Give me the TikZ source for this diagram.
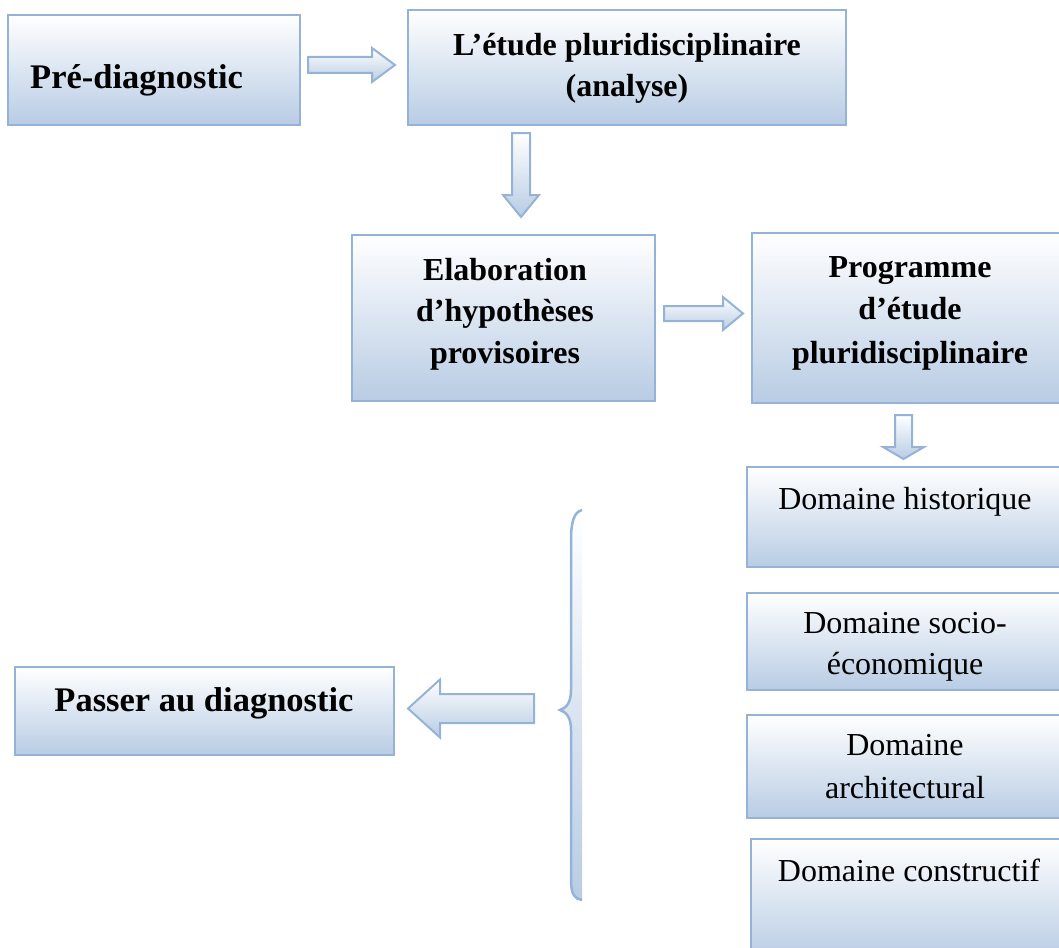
\documentclass[tikz,border=0pt]{standalone}
\usepackage{fontspec}
\setmainfont{Liberation Serif}
\usetikzlibrary{calc}
\definecolor{bdr}{RGB}{149,179,215}
\definecolor{fillb}{RGB}{184,204,228}
\pgfdeclareverticalshading{boxgrad}{100bp}{color(0bp)=(fillb); color(25bp)=(fillb); color(75bp)=(white); color(100bp)=(white)}
\pgfdeclareverticalshading{bracegrad}{100bp}{color(0bp)=(fillb); color(25bp)=(fillb); color(75bp)=(white); color(100bp)=(white)}
% name, tail, tip, shaft half width, head half width, head length
\newcommand\blockarrow[6]{%
  \coordinate (#1-h) at ($(#3)!#6!(#2)$);
  \draw[arrowshape] ($(#2)!#4!90:(#3)$) -- ($(#1-h)!#4!90:(#3)$) -- ($(#1-h)!#5!90:(#3)$)
    -- (#3) -- ($(#1-h)!#5!-90:(#3)$) -- ($(#1-h)!#4!-90:(#3)$) -- ($(#2)!#4!-90:(#3)$) -- cycle;
}
\begin{document}
\begin{tikzpicture}[x=1pt,y=-1pt,
  box/.style={draw=bdr, line width=2.5pt, shade, shading=boxgrad, rectangle, inner sep=0pt, outer sep=0pt},
  arrowshape/.style={draw=bdr, line width=2pt, shade, shading=boxgrad, line join=miter},
  tbig/.style={font=\fontsize{34.5}{40}\selectfont\bfseries, inner sep=0pt, anchor=base},
  tbold/.style={font=\fontsize{32}{38}\selectfont\bfseries, inner sep=0pt, anchor=base},
  treg/.style={font=\fontsize{32}{38}\selectfont, inner sep=0pt, anchor=base}]
\useasboundingbox (0,0) rectangle (1059,947);
\clip (0,0) rectangle (1059,947);

% boxes
\node[box, minimum width=292pt, minimum height=110pt] (b1) at (154,70) {};
\node[box, minimum width=438pt, minimum height=115pt] (b2) at (627,67.5) {};
\node[box, minimum width=303pt, minimum height=166pt] (b3) at (503.5,318) {};
\node[box, minimum width=328pt, minimum height=170pt] (b4) at (916,318) {};
\node[box, minimum width=333pt, minimum height=100pt] (d1) at (913.5,517) {};
\node[box, minimum width=333pt, minimum height=97pt] (d2) at (913.5,641.5) {};
\node[box, minimum width=333pt, minimum height=103pt] (d3) at (913.5,766.5) {};
\node[box, minimum width=329pt, minimum height=121pt] (d4) at (915.5,899.5) {};
\node[box, minimum width=379pt, minimum height=88pt] (p) at (204.5,711) {};

% texts
\node[tbig, anchor=base west] (t1) at (30,89) {Pré-diagnostic};
\node[tbold] (t2a) at (627,56) {L’étude pluridisciplinaire};
\node[tbold] (t2b) at (627,97) {(analyse)};
\node[tbold] (t3a) at (505,280) {Elaboration};
\node[tbold] (t3b) at (505,321) {d’hypothèses};
\node[tbold] (t3c) at (505,363) {provisoires};
\node[tbold] (t4a) at (910,277) {Programme};
\node[tbold] (t4b) at (910,319) {d’étude};
\node[tbold] (t4c) at (910,363) {pluridisciplinaire};
\node[treg] (td1) at (905,509) {Domaine historique};
\node[treg] (td2a) at (905,633) {Domaine socio-};
\node[treg] (td2b) at (905,674) {économique};
\node[treg] (td3a) at (905,755) {Domaine};
\node[treg] (td3b) at (905,798) {architectural};
\node[treg] (td4) at (909,881) {Domaine constructif};
\node[tbig] (tp) at (204,711) {Passer au diagnostic};

% arrows
\coordinate (a1s) at (308,65);   \coordinate (a1e) at (395,65);
\coordinate (a2s) at (521,133);  \coordinate (a2e) at (521,217);
\coordinate (a3s) at (664,313.5);\coordinate (a3e) at (743,313.5);
\coordinate (a4s) at (903.5,415);\coordinate (a4e) at (903.5,459);
\coordinate (a5s) at (534,708.5);\coordinate (a5e) at (408,708.5);
\blockarrow{a1}{a1s}{a1e}{8pt}{17pt}{23pt}
\blockarrow{a2}{a2s}{a2e}{9pt}{18pt}{22pt}
\blockarrow{a3}{a3s}{a3e}{7.5pt}{16.5pt}{20pt}
\blockarrow{a4}{a4s}{a4e}{8.5pt}{20.5pt}{12pt}
\blockarrow{a5}{a5s}{a5e}{14.5pt}{29pt}{32pt}

% brace
\path[shade, shading=bracegrad] (582,510) .. controls (574,512) and (571,522) .. (571,540) -- (571,690)
  .. controls (571,703) and (566,708) .. (560,710) .. controls (566,712) and (571,717) .. (571,730)
  -- (571,880) .. controls (571,895) and (575,899) .. (582,900) -- cycle;
\draw[draw=bdr, line width=2.5pt] (582,510) .. controls (574,512) and (571,522) .. (571,540) -- (571,690)
  .. controls (571,703) and (566,708) .. (560,710) .. controls (566,712) and (571,717) .. (571,730)
  -- (571,880) .. controls (571,895) and (575,899) .. (582,900);
\end{tikzpicture}
\end{document}
